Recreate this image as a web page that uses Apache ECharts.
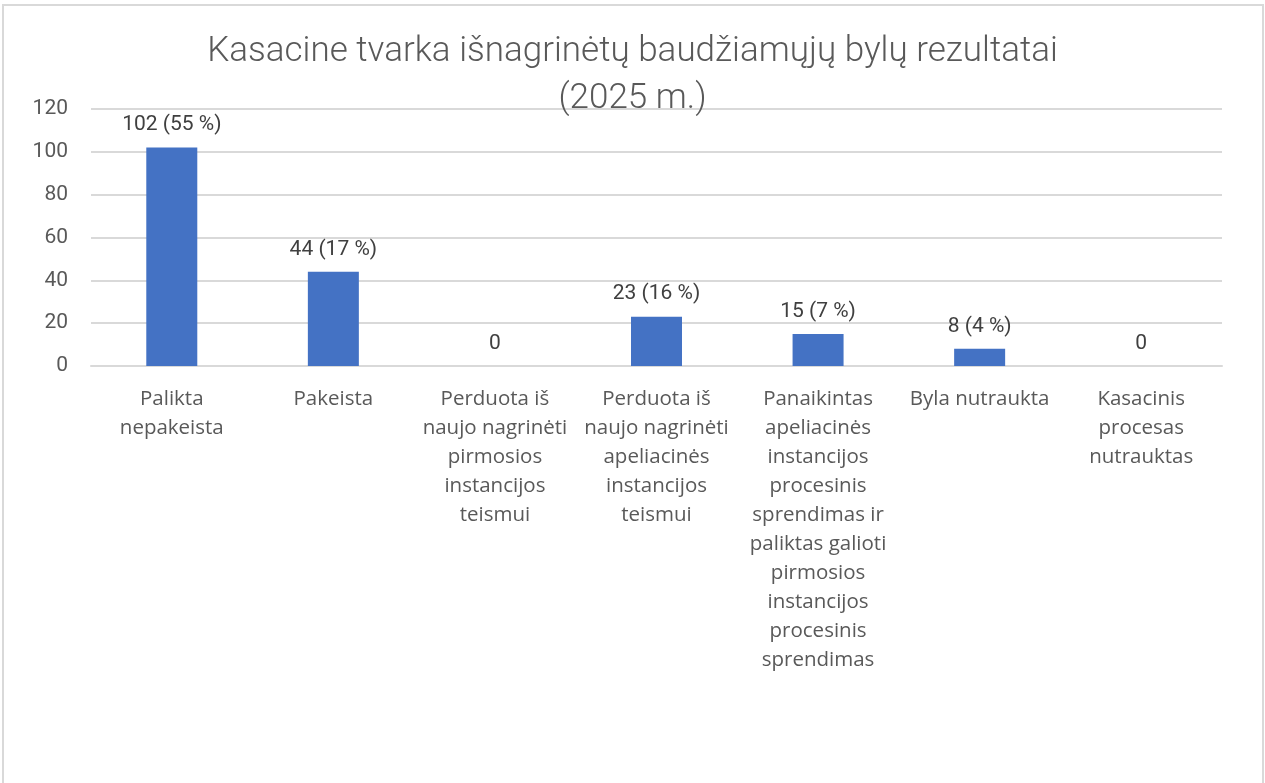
<!DOCTYPE html>
<html>
<head>
<meta charset="utf-8">
<script src="https://cdn.jsdelivr.net/npm/echarts@6/dist/echarts.min.js"></script>
<style>
html, body { margin: 0; padding: 0; background: #fff; }
#chart { width: 1265px; height: 783px; }
.frame {
	position: absolute; left: 2px; top: 4px; width: 1258px; height: 800px;
	border: 2px solid #d9d9d9; pointer-events: none;
}
</style>
</head>
<body>
<div id="chart"></div>
<div class="frame"></div>
<script>
// kategorijos (su eilučių lūžiais kaip originale)
var categories = [
	'Palikta\nnepakeista',
	'Pakeista',
	'Perduota iš\nnaujo nagrinėti\npirmosios\ninstancijos\nteismui',
	'Perduota iš\nnaujo nagrinėti\napeliacinės\ninstancijos\nteismui',
	'Panaikintas\napeliacinės\ninstancijos\nprocesinis\nsprendimas ir\npaliktas galioti\npirmosios\ninstancijos\nprocesinis\nsprendimas',
	'Byla nutraukta',
	'Kasacinis\nprocesas\nnutrauktas'
];
var values = [102, 44, 0, 23, 15, 8, 0];
var percents = ['55 %', '17 %', '', '16 %', '7 %', '4 %', ''];
var yTicks = [0, 20, 40, 60, 80, 100, 120];

var myChart = echarts.init(document.getElementById('chart'));
var option = {
	animation: false,
	title: {
		text: 'Kasacine tvarka išnagrinėtų baudžiamųjų bylų rezultatai\n(2025 m.)',
		left: 'center',
		top: 24,
		textStyle: {
			fontFamily: 'Roboto, sans-serif',
			fontWeight: 300,
			fontSize: 35,
			lineHeight: 47,
			color: '#595959'
		}
	},
	grid: {
		left: 91,
		right: 43,
		top: 109,
		bottom: 417
	},
	xAxis: {
		type: 'category',
		data: categories,
		axisLine: { lineStyle: { color: '#d9d9d9', width: 2 } },
		axisTick: { show: false },
		axisLabel: {
			interval: 0,
			margin: 19,
			fontFamily: '"Open Sans", sans-serif',
			fontSize: 20.5,
			lineHeight: 29,
			color: '#595959'
		}
	},
	yAxis: {
		type: 'value',
		min: yTicks[0],
		max: yTicks[yTicks.length - 1],
		interval: 20,
		axisLine: { show: false },
		axisTick: { show: false },
		splitLine: { lineStyle: { color: '#d9d9d9', width: 2 } },
		axisLabel: {
			margin: 23,
			fontFamily: 'Roboto, sans-serif',
			fontSize: 21,
			color: '#595959'
		}
	},
	series: [{
		type: 'bar',
		data: values,
		barWidth: 51,
		itemStyle: { color: '#4472c4' },
		label: {
			show: true,
			position: 'top',
			distance: 12,
			fontFamily: 'Roboto, sans-serif',
			fontSize: 21,
			color: '#404040',
			formatter: function (p) {
				var pc = percents[p.dataIndex];
				return pc ? p.value + ' (' + pc + ')' : String(p.value);
			}
		}
	}]
};
myChart.setOption(option);
</script>
</body>
</html>
